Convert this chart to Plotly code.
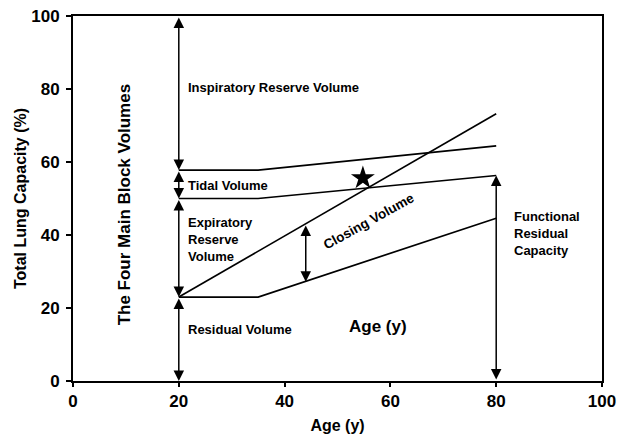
import plotly.graph_objects as go

# ---- data ----
age_knots = [20, 35, 80]
irv_lower = [57.8, 57.8, 64.4]      # top of tidal volume
tidal_lower = [50.0, 50.0, 56.3]    # top of expiratory reserve volume
residual_top = [23.0, 23.0, 44.6]   # residual volume line
closing_age = [20, 80]
closing_top = [23.0, 73.2]          # closing volume line

star_age = [54.8]
star_val = [55.6]

# double-headed arrows: (x, y_from, y_to)
arrow_x = [20, 20, 20, 20, 44, 80]
arrow_y0 = [100, 57.8, 50.0, 23.0, 43.0, 0]
arrow_y1 = [57.8, 50.0, 23.0, 0, 27.2, 56.3]

x_ticks = [0, 20, 40, 60, 80, 100]
y_ticks = [0, 20, 40, 60, 80, 100]

FONT = "Liberation Sans, Arial, sans-serif"

fig = go.Figure()
line_style = dict(color="black", width=1.7)
fig.add_trace(go.Scatter(x=age_knots, y=irv_lower, mode="lines", line=line_style, showlegend=False))
fig.add_trace(go.Scatter(x=age_knots, y=tidal_lower, mode="lines", line=line_style, showlegend=False))
fig.add_trace(go.Scatter(x=age_knots, y=residual_top, mode="lines", line=line_style, showlegend=False))
fig.add_trace(go.Scatter(x=closing_age, y=closing_top, mode="lines", line=line_style, showlegend=False))
fig.add_trace(go.Scatter(x=star_age, y=star_val, mode="markers",
                         marker=dict(symbol="star", size=18, color="black"), showlegend=False))

annotations = []
for x, y0, y1 in zip(arrow_x, arrow_y0, arrow_y1):
    annotations.append(dict(x=x, y=y1, ax=x, ay=y0, xref="x", yref="y", axref="x", ayref="y",
                            text="", showarrow=True, arrowhead=2, arrowside="end+start",
                            arrowsize=1.4, arrowwidth=1.5, arrowcolor="black",
                            standoff=0, startstandoff=0))

def txt(x, y, s, size=13, xanchor="left", angle=0, align="left"):
    annotations.append(dict(x=x, y=y, xref="x", yref="y", text=s, showarrow=False,
                            xanchor=xanchor, yanchor="middle", textangle=angle, align=align,
                            font=dict(family=FONT, size=size, color="black")))

txt(21.4, 80.3, "<b>Inspiratory Reserve Volume</b>")
txt(21.4, 53.7, "<b>Tidal Volume</b>")
txt(21.4, 38.9, "<b>Expiratory<br>Reserve<br>Volume</b>")
txt(21.4, 14.0, "<b>Residual Volume</b>")
txt(51.8, 14.8, "<b>Age (y)</b>", size=17)
txt(55.8, 43.8, "<b>Closing Volume</b>", size=13.5, xanchor="center", angle=-29)
txt(83.0, 40.5, "<b>Functional<br>Residual<br>Capacity</b>")
txt(9.9, 48.5, "<b>The Four Main Block Volumes</b>", size=17, xanchor="center", angle=-90)

fig.update_layout(
    width=617, height=439,
    margin=dict(l=73, r=15, t=16, b=58),
    paper_bgcolor="white", plot_bgcolor="white",
    font=dict(family=FONT, color="black"),
    annotations=annotations,
    xaxis=dict(range=[0, 100], tickvals=x_ticks, ticktext=[f"<b>{v}</b>" for v in x_ticks],
               tickfont=dict(size=17), showgrid=False, zeroline=False, automargin=False,
               ticklabeloverflow="allow",
               showline=True, linecolor="black", linewidth=2, mirror=True,
               ticks="outside", ticklen=4, tickwidth=1.5, tickcolor="black",
               title=dict(text="<b>Age (y)</b>", font=dict(size=16), standoff=9)),
    yaxis=dict(range=[0, 100], tickvals=y_ticks, ticktext=[f"<b>{v}</b>" for v in y_ticks],
               tickfont=dict(size=17), showgrid=False, zeroline=False, automargin=False,
               ticklabeloverflow="allow", ticklabelstandoff=3,
               showline=True, linecolor="black", linewidth=2, mirror=True,
               ticks="outside", ticklen=5, tickwidth=1.5, tickcolor="black",
               title=dict(text="<b>Total Lung Capacity (%)</b>", font=dict(size=16), standoff=1)),
)

# remove the default 8px page margin so the 617x439 figure fills the window exactly
fig.write_html("out.html", config={"displayModeBar": False},
               post_script="document.body.style.margin='0px';")
